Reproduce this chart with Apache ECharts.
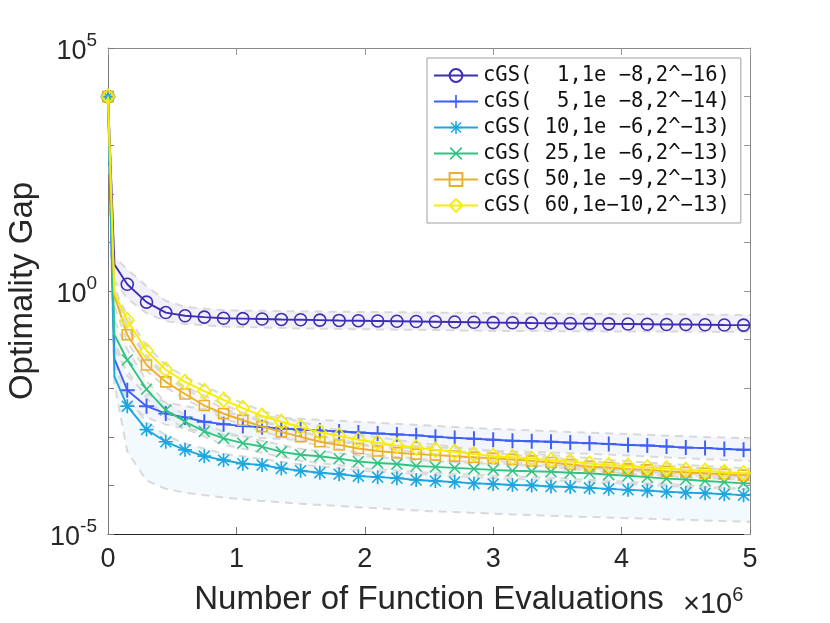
<!DOCTYPE html>
<html><head><meta charset="utf-8">
<script src="https://cdn.jsdelivr.net/npm/echarts@6.0.0/dist/echarts.min.js"></script>
<style>html,body{margin:0;padding:0;background:#fff}#c{width:830px;height:623px}</style>
</head><body><div id="c"></div>
<script>
// x positions in units of 10^6 function evaluations
const xMillions = [0,0.05,0.15,0.3,0.45,0.6,0.75,0.9,1.05,1.2,1.35,1.5,1.65,1.8,1.95,2.1,2.25,2.4,2.55,2.7,2.85,3.0,3.15,3.3,3.45,3.6,3.75,3.9,4.05,4.2,4.35,4.5,4.65,4.8,4.95,5.0];
// which points carry a marker
const hasMarker = [1,0,1,1,1,1,1,1,1,1,1,1,1,1,1,1,1,1,1,1,1,1,1,1,1,1,1,1,1,1,1,1,1,1,1,0];

const seriesNames = [
  'cGS(  1,1e −8,2^−16)',
  'cGS(  5,1e −8,2^−14)',
  'cGS( 10,1e −6,2^−13)',
  'cGS( 25,1e −6,2^−13)',
  'cGS( 50,1e −9,2^−13)',
  'cGS( 60,1e−10,2^−13)'
];

const gap1 = [1e4,3.5,1.38,0.59,0.36,0.31,0.29,0.275,0.27,0.265,0.26,0.256,0.252,0.248,0.245,0.242,0.239,0.236,0.233,0.23,0.227,0.224,0.222,0.219,0.217,0.215,0.213,0.211,0.209,0.207,0.205,0.204,0.202,0.2,0.199,0.198];
const gap2 = [1e4,4e-2,9.1e-3,4.27e-3,3.0e-3,2.51e-3,2.04e-3,1.82e-3,1.66e-3,1.58e-3,1.48e-3,1.41e-3,1.35e-3,1.29e-3,1.23e-3,1.17e-3,1.12e-3,1.07e-3,1.0e-3,9.5e-4,9.1e-4,8.7e-4,8.3e-4,8.1e-4,7.9e-4,7.6e-4,7.4e-4,7.1e-4,6.8e-4,6.6e-4,6.3e-4,6.0e-4,5.9e-4,5.6e-4,5.4e-4,5.4e-4];
const gap3 = [1e4,1.74e-2,4.27e-3,1.41e-3,7.9e-4,5.4e-4,4.0e-4,3.3e-4,2.8e-4,2.63e-4,2.24e-4,2.0e-4,1.82e-4,1.7e-4,1.55e-4,1.48e-4,1.41e-4,1.29e-4,1.23e-4,1.17e-4,1.1e-4,1.07e-4,1.02e-4,1.0e-4,9.5e-5,9.3e-5,8.9e-5,8.5e-5,8.1e-5,7.8e-5,7.4e-5,7.1e-5,6.9e-5,6.6e-5,6.3e-5,6.3e-5];
const gap4 = [1e4,0.126,3.8e-2,9.5e-3,3.55e-3,2.04e-3,1.29e-3,9.3e-4,7.4e-4,6.3e-4,4.9e-4,4.27e-4,3.98e-4,3.55e-4,3.1e-4,2.88e-4,2.75e-4,2.51e-4,2.4e-4,2.29e-4,2.19e-4,2.09e-4,2.0e-4,1.95e-4,1.91e-4,1.82e-4,1.78e-4,1.66e-4,1.58e-4,1.48e-4,1.38e-4,1.32e-4,1.23e-4,1.17e-4,1.1e-4,1.1e-4];
const gap5 = [1e4,0.79,0.126,3.0e-2,1.35e-2,7.6e-3,4.4e-3,3.0e-3,2.19e-3,1.62e-3,1.26e-3,1.0e-3,7.9e-4,6.8e-4,5.75e-4,5.1e-4,4.7e-4,4.4e-4,4.2e-4,4.0e-4,3.8e-4,3.6e-4,3.4e-4,3.2e-4,2.95e-4,2.7e-4,2.45e-4,2.34e-4,2.19e-4,2.09e-4,1.95e-4,1.86e-4,1.78e-4,1.7e-4,1.62e-4,1.62e-4];
const gap6 = [1e4,0.9,0.251,5.9e-2,2.4e-2,1.35e-2,8.7e-3,5.75e-3,3.9e-3,2.7e-3,2.04e-3,1.58e-3,1.23e-3,1.05e-3,8.7e-4,7.6e-4,6.6e-4,6.0e-4,5.4e-4,4.9e-4,4.4e-4,4.0e-4,3.8e-4,3.55e-4,3.3e-4,3.1e-4,2.8e-4,2.63e-4,2.51e-4,2.34e-4,2.24e-4,2.09e-4,2.0e-4,1.86e-4,1.78e-4,1.78e-4];

// spread bands (min / max over runs)
const bandX = [0,0.05,0.15,0.3,0.45,0.6,0.9,1.2,1.5,2.0,2.5,3.0,3.5,4.0,4.5,5.0];
const band1Upper = [1e4,5,2.8,1.26,0.63,0.47,0.4,0.39,0.38,0.37,0.36,0.35,0.34,0.335,0.33,0.32];
const band1Lower = [1e4,1.6,0.7,0.35,0.24,0.21,0.186,0.178,0.17,0.163,0.158,0.151,0.149,0.147,0.146,0.145];
const band2Upper = [1e4,0.1,1.78e-2,7.6e-3,5.1e-3,4.3e-3,3.1e-3,2.6e-3,2.34e-3,2.0e-3,1.7e-3,1.45e-3,1.29e-3,1.15e-3,1.02e-3,9.3e-4];
const band2Lower = [1e4,1.6e-2,5.0e-3,2.5e-3,1.78e-3,1.48e-3,1.1e-3,9.5e-4,8.5e-4,7.2e-4,6.2e-4,5.2e-4,4.7e-4,4.2e-4,3.6e-4,3.2e-4];
const band3Upper = [1e4,3.2e-2,6.3e-3,2.0e-3,1.07e-3,7.2e-4,4.5e-4,3.5e-4,2.7e-4,2.0e-4,1.66e-4,1.41e-4,1.26e-4,1.1e-4,9.3e-5,8.3e-5];
const band3Lower = [1e4,1.26e-2,5.0e-4,1.26e-4,8.5e-5,7.1e-5,5.6e-5,4.8e-5,4.2e-5,3.5e-5,2.95e-5,2.63e-5,2.34e-5,2.14e-5,1.95e-5,1.78e-5];
const band4Upper = [1e4,0.25,6.3e-2,1.41e-2,5.0e-3,2.8e-3,1.26e-3,8.3e-4,5.6e-4,4.0e-4,3.2e-4,2.75e-4,2.45e-4,2.1e-4,1.74e-4,1.45e-4];
const band4Lower = [1e4,6.3e-2,2.24e-2,6.3e-3,2.5e-3,1.48e-3,6.9e-4,4.7e-4,3.2e-4,2.24e-4,1.82e-4,1.58e-4,1.41e-4,1.2e-4,1.0e-4,8.3e-5];
const band5Upper = [1e4,1.26,0.178,4.0e-2,1.74e-2,9.5e-3,3.8e-3,2.04e-3,1.26e-3,6.9e-4,5.4e-4,4.6e-4,3.6e-4,2.8e-4,2.34e-4,2.04e-4];
const band5Lower = [1e4,0.5,8.9e-2,2.29e-2,1.05e-2,6.0e-3,2.4e-3,1.29e-3,7.9e-4,4.4e-4,3.4e-4,2.9e-4,2.29e-4,1.78e-4,1.48e-4,1.29e-4];
const band6Upper = [1e4,1.12,0.316,7.4e-2,3.0e-2,1.7e-2,7.2e-3,3.4e-3,2.0e-3,1.05e-3,7.1e-4,5.0e-4,4.1e-4,3.2e-4,2.63e-4,2.24e-4];
const band6Lower = [1e4,0.71,0.2,4.7e-2,1.9e-2,1.07e-2,4.6e-3,2.14e-3,1.26e-3,6.6e-4,4.5e-4,3.2e-4,2.57e-4,2.04e-4,1.66e-4,1.41e-4];

const xTickLabels = ['0','1','2','3','4','5'];

// ---------- styling ----------
const FONT = "'Liberation Sans', Arial, Helvetica, sans-serif";
const TXT = '#262626';
const colors = ['#3d2fb4','#3f5ff5','#1ea6de','#34c283','#ebb02c','#f5ec0a'];
const bandFills = ['rgba(70,60,180,0.07)','rgba(60,95,245,0.06)','rgba(30,166,222,0.06)','rgba(52,194,131,0.06)','rgba(235,176,44,0.06)','rgba(245,236,10,0.06)'];
const PLUS = 'path://M4.35,0H5.65V4.35H10V5.65H5.65V10H4.35V5.65H0V4.35H4.35Z';
const CROSS = 'path://M0,0.9L0.9,0L5,4.1L9.1,0L10,0.9L5.9,5L10,9.1L9.1,10L5,5.9L0.9,10L0,9.1L4.1,5Z';
const STAR = 'path://M4.4,0H5.6V4.4H10V5.6H5.6V10H4.4V5.6H0V4.4H4.4Z M1.5,0.7L5,4.2L8.5,0.7L9.3,1.5L5.8,5L9.3,8.5L8.5,9.3L5,5.8L1.5,9.3L0.7,8.5L4.2,5L0.7,1.5Z';
const markerDefs = [
  {symbol:'circle', size:12, hollow:true},
  {symbol:PLUS, size:15, hollow:false},
  {symbol:STAR, size:14, hollow:false},
  {symbol:CROSS, size:12, hollow:false},
  {symbol:'rect', size:10, hollow:true},
  {symbol:'diamond', size:[13,15], hollow:true}
];
const gaps = [gap1,gap2,gap3,gap4,gap5,gap6];
const bands = [[band1Upper,band1Lower],[band2Upper,band2Lower],[band3Upper,band3Lower],[band4Upper,band4Lower],[band5Upper,band5Lower],[band6Upper,band6Lower]];

const series = [];
bands.forEach(function(b, k){
  series.push({
    type:'custom', name:'band'+k, coordinateSystem:'cartesian2d', silent:true, z:1, clip:true,
    data:[[0,1]],
    renderItem:function(params, api){
      const up = bandX.map(function(x,i){return api.coord([x,b[0][i]]);});
      const lo = bandX.map(function(x,i){return api.coord([x,b[1][i]]);});
      const edge = {stroke:'#d9d9d9', lineWidth:2, lineDash:[8,6], fill:null};
      return {type:'group', children:[
        {type:'polygon', shape:{points:up.concat(lo.slice().reverse())}, style:{fill:bandFills[k]}},
        {type:'polyline', shape:{points:up}, style:edge},
        {type:'polyline', shape:{points:lo}, style:edge}
      ]};
    }
  });
});
gaps.forEach(function(g, k){
  const m = markerDefs[k];
  series.push({
    type:'line', name:seriesNames[k], z:3+k, showAllSymbol:true,
    symbol:m.symbol, symbolSize:m.size,
    lineStyle:{color:colors[k], width:1.9},
    itemStyle: m.hollow ? {color:'rgba(255,255,255,0)', borderColor:colors[k], borderWidth:1.6}
                        : {color:colors[k], borderWidth:0},
    data: xMillions.map(function(x,i){
      const item = {value:[x,g[i]]};
      if(!hasMarker[i]) item.symbol = 'none';
      return item;
    })
  });
});

const chart = echarts.init(document.getElementById('c'), null, {renderer:'canvas'});
chart.setOption({
  animation:false,
  backgroundColor:'#fff',
  grid:{left:108, top:48, right:80, bottom:89, containLabel:false, outerBoundsMode:'none'},
  legend:{
    data:seriesNames, orient:'vertical', left:427, top:58, align:'left',
    padding:[7,11,7,6], itemGap:5, itemWidth:44, itemHeight:16,
    backgroundColor:'#fff', borderColor:'#a0a0a0', borderWidth:1, borderRadius:0,
    textStyle:{fontFamily:"'DejaVu Sans Mono', monospace", fontSize:20.5, color:'#111', lineHeight:20},
    selectedMode:false
  },
  xAxis:[{
    type:'value', min:0, max:5, interval:1, position:'bottom',
    name:'Number of Function Evaluations', nameLocation:'middle', nameGap:49,
    nameTextStyle:{fontFamily:FONT, fontSize:33, color:TXT},
    axisLine:{show:true, onZero:false, lineStyle:{color:'#262626', width:1}},
    axisTick:{show:true, inside:true, length:7, lineStyle:{color:'#777'}},
    axisLabel:{margin:12, fontFamily:FONT, fontSize:27, color:TXT,
      formatter:function(v){ return xTickLabels[Math.round(v)] || ''; }},
    splitLine:{show:false}
  },{
    type:'value', min:0, max:5, interval:1, position:'top',
    axisLine:{show:true, onZero:false, lineStyle:{color:'#888', width:1}},
    axisTick:{show:true, inside:true, length:7, lineStyle:{color:'#999'}},
    axisLabel:{show:false}, splitLine:{show:false}
  }],
  yAxis:[{
    type:'log', logBase:10, min:1e-5, max:1e5, interval:1, splitNumber:10, position:'left',
    name:'Optimality Gap', nameLocation:'middle', nameGap:68, nameRotate:90,
    nameTextStyle:{fontFamily:FONT, fontSize:33, color:TXT},
    axisLine:{show:true, onZero:false, lineStyle:{color:'#777', width:1}},
    axisTick:{show:true, inside:true, length:6, lineStyle:{color:'#777'}},
    axisLabel:{margin:11, showMinLabel:true, showMaxLabel:true,
      formatter:function(v){
        const e = Math.round(Math.log10(v));
        if(e % 5 !== 0) return '';
        return '{b|10}{s|' + e + '}';
      },
      rich:{
        b:{fontFamily:FONT, fontSize:27, color:TXT, lineHeight:34, verticalAlign:'bottom'},
        s:{fontFamily:FONT, fontSize:19, color:TXT, lineHeight:34, verticalAlign:'top'}
      }},
    splitLine:{show:false}, minorTick:{show:false}
  },{
    type:'log', logBase:10, min:1e-5, max:1e5, interval:1, splitNumber:10, position:'right',
    axisLine:{show:true, onZero:false, lineStyle:{color:'#888', width:1}},
    axisTick:{show:true, inside:true, length:6, lineStyle:{color:'#999'}},
    axisLabel:{show:false}, splitLine:{show:false}
  }],
  graphic:[{
    type:'text', left:683, top:585,
    style:{
      text:'{a|×10}{b|6}',
      rich:{
        a:{fontFamily:FONT, fontSize:29, fill:TXT, lineHeight:34, verticalAlign:'bottom'},
        b:{fontFamily:FONT, fontSize:20, fill:TXT, lineHeight:34, verticalAlign:'top'}
      }
    }
  }],
  series:series
});
</script></body></html>
